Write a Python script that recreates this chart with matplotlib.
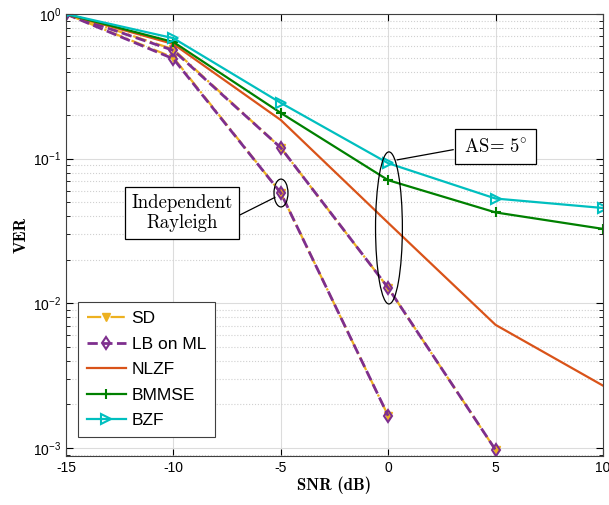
import matplotlib
matplotlib.use("Agg")
import matplotlib.pyplot as plt
from matplotlib.patches import Ellipse
from matplotlib.ticker import LogLocator, NullFormatter

snr_iid = [-15, -10, -5, 0]
snr_as = [-15, -10, -5, 0, 5]
snr = [-15, -10, -5, 0, 5, 10]

sd_iid = [1.0, 0.50, 0.058, 1.67e-3]
lb_iid = [1.0, 0.49, 0.058, 1.67e-3]
sd_as = [1.0, 0.57, 0.119, 0.0128, 9.7e-4]
lb_as = [1.0, 0.56, 0.119, 0.0128, 9.7e-4]
nlzf = [1.0, 0.62, 0.185, 0.036, 0.0071, 0.0027]
bmmse = [1.0, 0.64, 0.207, 0.071, 0.0425, 0.0327]
bzf = [1.0, 0.68, 0.243, 0.093, 0.053, 0.0456]

c_sd = "#EDB120"
c_lb = "#7E2F8E"
c_nlzf = "#D95319"
c_bmmse = "#008000"
c_bzf = "#00BFBF"

plt.rcParams["font.family"] = ["Liberation Sans", "DejaVu Sans"]
plt.rcParams["font.size"] = 10

fig = plt.figure(figsize=(6.09, 5.05), dpi=100)
ax = fig.add_axes([0.1084, 0.097, 0.8816, 0.8753])

lw = 1.6
ax.plot(snr_iid, sd_iid, "-.v", color=c_sd, lw=lw, ms=6, label="SD")
ax.plot(snr_iid, lb_iid, "--d", color=c_lb, lw=lw + 0.4, ms=6, mfc="none", mew=1.5,
        label="LB on ML")
ax.plot(snr_as, sd_as, "-.v", color=c_sd, lw=lw, ms=6)
ax.plot(snr_as, lb_as, "--d", color=c_lb, lw=lw + 0.4, ms=6, mfc="none", mew=1.5)
ax.plot(snr, nlzf, "-", color=c_nlzf, lw=lw, label="NLZF")
ax.plot(snr, bmmse, "-+", color=c_bmmse, lw=lw, ms=7, mew=1.5, label="BMMSE")
ax.plot(snr, bzf, "->", color=c_bzf, lw=lw, ms=7, mfc="none", mew=1.5, label="BZF")

ax.set_yscale("log")
ax.set_xlim(-15, 10)
ax.set_ylim(8.8e-4, 1.0)
ax.set_xticks([-15, -10, -5, 0, 5, 10])
ax.set_xticklabels(["-15", "-10", "-5", "0", "5", "10"])
ax.yaxis.set_major_locator(LogLocator(base=10, numticks=10))
ax.yaxis.set_minor_locator(LogLocator(base=10, subs=range(2, 10), numticks=20))
ax.yaxis.set_minor_formatter(NullFormatter())
ax.tick_params(which="both", direction="in", top=True, right=True)
ax.tick_params(which="major", length=5)
ax.tick_params(which="minor", length=3)
ax.grid(True, which="major", color="#dcdcdc", lw=0.8)
ax.grid(True, which="minor", axis="y", color="#d0d0d0", ls=":", lw=0.8)
for s in ax.spines.values():
    s.set_color("#404040")

ax.set_xlabel("SNR (dB)", family="cmb10", fontsize=12, labelpad=1)
ax.set_ylabel("VER", family="cmb10", fontsize=12, labelpad=3)

# ellipses and callouts, placed in axes fraction
ax.add_patch(Ellipse((0.4004, 0.595), 0.026, 0.063, transform=ax.transAxes,
                     fill=False, lw=0.9, color="black", zorder=5))
ax.add_patch(Ellipse((0.6015, 0.516), 0.050, 0.344, transform=ax.transAxes,
                     fill=False, lw=0.9, color="black", zorder=5))
ax.plot([0.320, 0.389], [0.543, 0.585], color="black", lw=0.9, transform=ax.transAxes,
        zorder=5)
ax.plot([0.721, 0.617], [0.693, 0.670], color="black", lw=0.9, transform=ax.transAxes,
        zorder=5)
box = dict(boxstyle="square,pad=0.35", fc="white", ec="black", lw=0.9)
ax.text(0.216, 0.550, "Independent\nRayleigh", family="cmr10", fontsize=13.5,
        ha="center", va="center", linespacing=1.2, transform=ax.transAxes,
        bbox=box, zorder=6)
ax.text(0.80, 0.700, r"$\mathrm{AS}\!=\,5^{\circ}$", math_fontfamily="cm", fontsize=13.5,
        ha="center", va="center", transform=ax.transAxes,
        bbox=dict(boxstyle="square,pad=0.45", fc="white", ec="black", lw=0.9), zorder=6)

leg = ax.legend(loc="lower left", fontsize=12.5, handlelength=2.3, borderpad=0.5,
                labelspacing=0.6, handletextpad=0.3, fancybox=False, framealpha=1,
                edgecolor="#404040", bbox_to_anchor=(0.022, 0.043), borderaxespad=0)
leg.get_frame().set_linewidth(0.8)

fig.savefig("out.png", dpi=100)
